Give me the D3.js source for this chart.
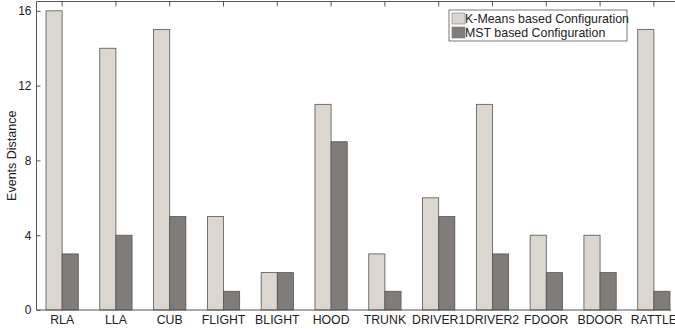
<!DOCTYPE html>
<html>
<head>
<meta charset="utf-8">
<script src="https://cdn.jsdelivr.net/npm/d3@7"></script>
<style>
  body { margin: 0; background: #fff; }
  text { font-family: "Liberation Sans", Arial, sans-serif; fill: #222; }
</style>
</head>
<body>
<div id="chart"></div>
<script>
const categories = ["RLA", "LLA", "CUB", "FLIGHT", "BLIGHT", "HOOD", "TRUNK", "DRIVER1", "DRIVER2", "FDOOR", "BDOOR", "RATTLE"]
const kmeansValues = [16, 14, 15, 5, 2, 11, 3, 6, 11, 4, 4, 15]
const mstValues = [3, 4, 5, 1, 2, 9, 1, 5, 3, 2, 2, 1]
const seriesNames = ["K-Means based Configuration", "MST based Configuration"]
const yTicks = [0, 4, 8, 12, 16]

const width = 675
const height = 329
const colors = ["#dbd6d0", "#807c79"]

const svg = d3.select("#chart")
  .append("svg")
  .attr("width", width)
  .attr("height", height)

const plotLeft = 36.5, plotRight = 671, plotTop = 1.5, plotBottom = 310

// Scales
const x = d3.scaleBand()
  .domain(categories)
  .range([46, 670])
  .paddingInner(0.4)
  .paddingOuter(0)

const xInner = d3.scaleBand()
  .domain(seriesNames)
  .range([0, x.bandwidth()])

const y = d3.scaleLinear()
  .domain([0, 16.5])
  .range([plotBottom, plotTop])

const rows = categories.map((c, i) => ({ cat: c, values: [kmeansValues[i], mstValues[i]] }))

// Bars
const groups = svg.selectAll(".group")
  .data(rows)
  .enter()
  .append("g")
  .attr("class", "group")
  .attr("transform", d => `translate(${x(d.cat)},0)`)

groups.selectAll("rect")
  .data(d => d.values.map((v, i) => ({ v, s: seriesNames[i], i })))
  .enter()
  .append("rect")
  .attr("x", d => xInner(d.s))
  .attr("y", d => y(d.v))
  .attr("width", xInner.bandwidth())
  .attr("height", d => y(0) - y(d.v))
  .attr("fill", d => colors[d.i])
  .attr("stroke", "#555")
  .attr("stroke-width", 0.8)

// Frame
const frame = svg.append("g")
  .attr("stroke", "#555")
  .attr("stroke-width", 1)
frame.append("line").attr("x1", plotLeft).attr("x2", plotLeft).attr("y1", plotTop).attr("y2", plotBottom)
frame.append("line").attr("x1", plotLeft).attr("x2", plotRight).attr("y1", plotBottom).attr("y2", plotBottom)
frame.append("line").attr("x1", plotLeft).attr("x2", width).attr("y1", plotTop).attr("y2", plotTop)

// Top ticks at category centres
frame.selectAll(".ttick")
  .data(categories)
  .enter()
  .append("line")
  .attr("x1", d => x(d) + x.bandwidth() / 2)
  .attr("x2", d => x(d) + x.bandwidth() / 2)
  .attr("y1", plotTop)
  .attr("y2", plotTop + 5)

// Y axis
const yAxis = d3.axisLeft(y)
  .tickValues(yTicks)
  .tickSize(-4)
  .tickPadding(5)

const yg = svg.append("g")
  .attr("transform", `translate(${plotLeft},0)`)
  .call(yAxis)
yg.select(".domain").remove()
yg.selectAll("line").attr("stroke", "#555")
yg.selectAll("text")
  .attr("font-size", 12)
  .attr("font-family", "Liberation Sans, Arial, sans-serif")
  .attr("fill", "#222")

// X axis labels
const xAxis = d3.axisBottom(x).tickSize(0).tickPadding(5)
const xg = svg.append("g")
  .attr("transform", `translate(0,${plotBottom})`)
  .call(xAxis)
xg.select(".domain").remove()
xg.selectAll("text")
  .attr("font-size", 12.3)
  .attr("font-family", "Liberation Sans, Arial, sans-serif")
  .attr("fill", "#222")

// Y label
svg.append("text")
  .attr("transform", `translate(16,${(plotTop + plotBottom) / 2}) rotate(-90)`)
  .attr("text-anchor", "middle")
  .attr("font-size", 12.5)
  .text("Events Distance")

// Legend
const legend = svg.append("g").attr("transform", "translate(449,10)")
legend.append("rect")
  .attr("width", 178)
  .attr("height", 31)
  .attr("fill", "#fff")
  .attr("stroke", "#555")
  .attr("stroke-width", 0.8)

seriesNames.forEach((name, i) => {
  legend.append("rect")
    .attr("x", 3)
    .attr("y", 3 + i * 14)
    .attr("width", 13)
    .attr("height", 11)
    .attr("fill", colors[i])
    .attr("stroke", "#777")
    .attr("stroke-width", 0.6)
  legend.append("text")
    .attr("x", 16)
    .attr("y", 13 + i * 14)
    .attr("font-size", 12.4)
    .text(name)
})
</script>
</body>
</html>
